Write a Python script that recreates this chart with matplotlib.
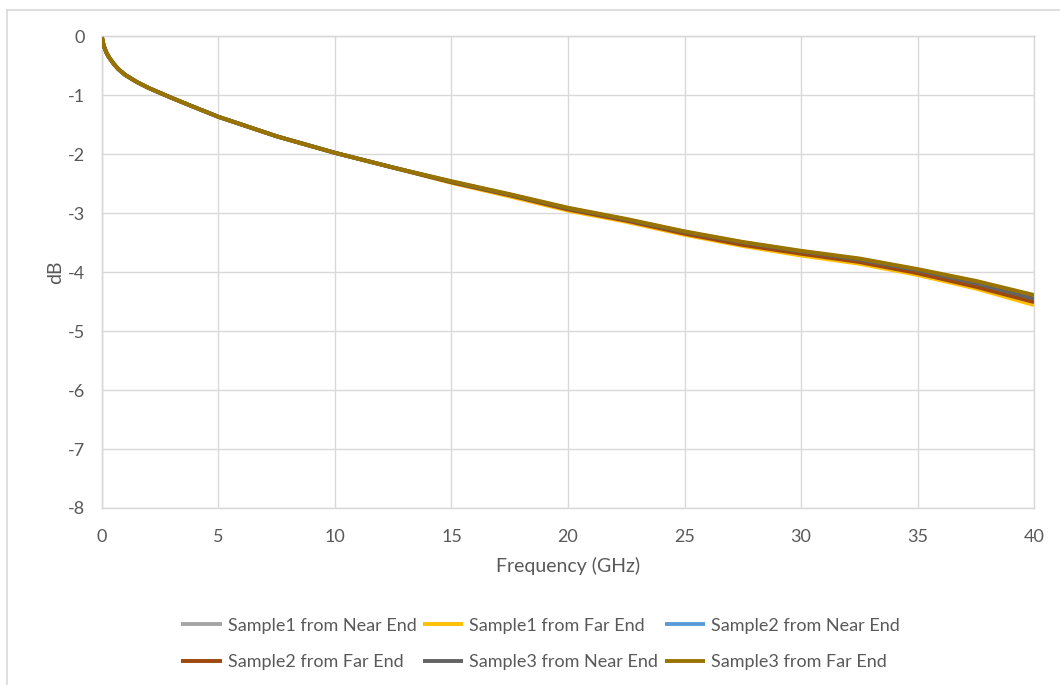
import matplotlib
matplotlib.use("Agg")
import matplotlib.pyplot as plt
from matplotlib.lines import Line2D

# %% data
freq_ghz = [0, 0.05, 0.1, 0.2, 0.3, 0.5, 0.7, 1, 1.5, 2, 2.35, 3, 3.8, 5, 7.5, 10, 12.5,
            15, 17.5, 20, 22.5, 25, 27.5, 30, 32.5, 35, 37.5, 40]

# below ~13 GHz all six traces sit on top of each other
head = [-0.02, -0.12, -0.19, -0.29, -0.36, -0.47, -0.56, -0.66, -0.78, -0.88, -0.94,
        -1.05, -1.18, -1.37, -1.70, -1.98, -2.23]

s1_near = head + [-2.47, -2.69, -2.93, -3.12, -3.33, -3.51, -3.66, -3.80, -3.98, -4.20, -4.46]
s1_far = head + [-2.49, -2.72, -2.96, -3.15, -3.37, -3.56, -3.72, -3.86, -4.05, -4.28, -4.56]
s2_near = head + [-2.47, -2.69, -2.93, -3.12, -3.33, -3.51, -3.66, -3.80, -3.98, -4.20, -4.46]
s2_far = head + [-2.48, -2.70, -2.94, -3.13, -3.35, -3.54, -3.69, -3.83, -4.02, -4.25, -4.51]
s3_near = head + [-2.47, -2.69, -2.92, -3.11, -3.32, -3.50, -3.65, -3.79, -3.97, -4.19, -4.45]
s3_far = head + [-2.46, -2.68, -2.91, -3.10, -3.31, -3.49, -3.64, -3.77, -3.95, -4.15, -4.39]

labels = ["Sample1 from Near End", "Sample1 from Far End", "Sample2 from Near End",
          "Sample2 from Far End", "Sample3 from Near End", "Sample3 from Far End"]
series = [s1_near, s1_far, s2_near, s2_far, s3_near, s3_far]
colors = ["#A5A5A5", "#FFC000", "#5B9BD5", "#9E480E", "#636363", "#997300"]

x_ticks = [0, 5, 10, 15, 20, 25, 30, 35, 40]
y_ticks = [0, -1, -2, -3, -4, -5, -6, -7, -8]

# %% style
plt.rcParams['font.family'] = ['Lato', 'DejaVu Sans']
TEXT_COLOR = "#595959"
GRID_COLOR = "#D9D9D9"
AXIS_COLOR = "#BFBFBF"

fig = plt.figure(figsize=(10.6, 6.85), dpi=100)
ax = fig.add_axes([0.0962, 0.2584, 0.8793, 0.689])

handles = []
for y, c, lab in zip(series, colors, labels):
    h, = ax.plot(freq_ghz, y, color=c, linewidth=2.8, label=lab,
                 solid_capstyle='butt', solid_joinstyle='round')
    handles.append(h)

ax.set_xlim(0, 40)
ax.set_ylim(-8, 0)
ax.set_xticks(x_ticks)
ax.set_yticks(y_ticks)
ax.set_xticklabels([str(v) for v in x_ticks])
ax.set_yticklabels([str(v) for v in y_ticks])
ax.tick_params(axis='both', length=0, labelsize=13, colors=TEXT_COLOR)
ax.tick_params(axis='x', pad=15)
ax.tick_params(axis='y', pad=12)
ax.grid(True, color=GRID_COLOR, linewidth=1.0)
ax.set_axisbelow(True)

ax.spines['left'].set_color(AXIS_COLOR)
ax.spines['top'].set_color(AXIS_COLOR)
ax.spines['bottom'].set_color(GRID_COLOR)
ax.spines['right'].set_color(GRID_COLOR)
for s in ax.spines.values():
    s.set_linewidth(1.0)
    s.set_zorder(0.5)

ax.set_xlabel('Frequency (GHz)', fontsize=14, color=TEXT_COLOR, labelpad=9)
ax.set_ylabel('dB', fontsize=14, color=TEXT_COLOR, labelpad=3)

# legend, row-major order in 3 columns
order = [0, 3, 1, 4, 2, 5]
leg = fig.legend([handles[i] for i in order], [labels[i] for i in order],
                 loc='center', bbox_to_anchor=(0.510, 0.060), ncol=3, frameon=False,
                 fontsize=13, handlelength=2.25, handletextpad=0.33, columnspacing=0.35,
                 labelspacing=1.15)
for t in leg.get_texts():
    t.set_color(TEXT_COLOR)

# chart area border
fig.add_artist(Line2D([7 / 1060, 7 / 1060], [0, 1 - 10 / 685], transform=fig.transFigure,
                      color=GRID_COLOR, linewidth=1.2))
fig.add_artist(Line2D([7 / 1060, 1], [1 - 10 / 685, 1 - 10 / 685], transform=fig.transFigure,
                      color=GRID_COLOR, linewidth=1.2))

fig.savefig('out.png', dpi=100, facecolor='white')
